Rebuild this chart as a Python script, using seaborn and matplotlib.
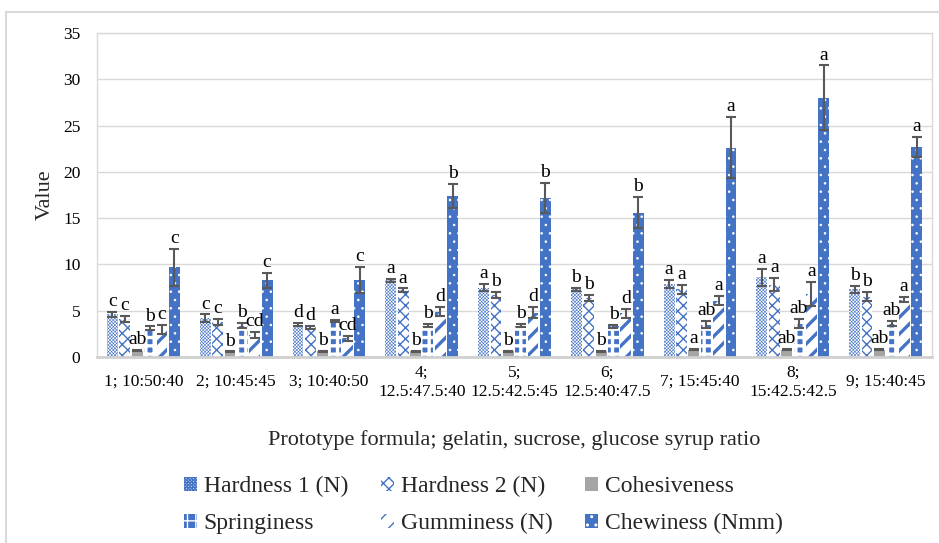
import matplotlib
matplotlib.use("Agg")
import matplotlib.pyplot as plt
from matplotlib.patches import Patch
from matplotlib.lines import Line2D
import numpy as np
import pandas as pd
import seaborn as sns

# Prototype formulas (gelatin : sucrose : glucose syrup)
formulas = ["1; 10:50:40", "2; 10:45:45", "3; 10:40:50",
            "4;\n12.5:47.5:40", "5;\n12.5:42.5:45", "6;\n12.5:40:47.5",
            "7; 15:45:40", "8;\n15:42.5:42.5", "9; 15:40:45"]

attributes = ["Hardness 1 (N)", "Hardness 2 (N)", "Cohesiveness",
              "Springiness", "Gumminess (N)", "Chewiness (Nmm)"]

hardness1 = [4.6, 4.2, 3.5, 8.3, 7.5, 7.3, 7.9, 8.6, 7.3]
hardness1_sd = [0.3, 0.4, 0.15, 0.15, 0.4, 0.15, 0.4, 0.9, 0.4]
hardness2 = [4.1, 3.8, 3.2, 7.2, 6.7, 6.4, 7.3, 7.8, 6.5]
hardness2_sd = [0.3, 0.3, 0.15, 0.2, 0.3, 0.3, 0.5, 0.7, 0.5]
cohesiveness = [0.7, 0.55, 0.6, 0.6, 0.6, 0.6, 0.8, 0.8, 0.8]
cohesiveness_sd = [0.05, 0.05, 0.05, 0.05, 0.05, 0.05, 0.05, 0.05, 0.05]
springiness = [3.1, 3.4, 3.9, 3.4, 3.4, 3.3, 3.5, 3.6, 3.6]
springiness_sd = [0.2, 0.3, 0.15, 0.15, 0.2, 0.2, 0.4, 0.5, 0.3]
gumminess = [3.0, 2.4, 2.0, 4.9, 4.8, 4.7, 6.1, 6.8, 6.2]
gumminess_sd = [0.5, 0.3, 0.3, 0.5, 0.6, 0.5, 0.5, 1.3, 0.3]
chewiness = [9.7, 8.3, 8.3, 17.4, 17.2, 15.6, 22.6, 28.0, 22.7]
chewiness_sd = [2.0, 0.8, 1.4, 1.3, 1.6, 1.7, 3.3, 3.5, 1.1]

letters_h1 = ["c", "c", "d", "a", "a", "b", "a", "a", "b"]
letters_h2 = ["c", "c", "d", "a", "b", "b", "a", "a", "b"]
letters_coh = ["ab", "b", "b", "b", "b", "b", "a", "ab", "ab"]
letters_spr = ["b", "b", "a", "b", "b", "b", "ab", "ab", "ab"]
letters_gum = ["c", "cd", "cd", "d", "d", "d", "a", "a", "a"]
letters_chew = ["c", "c", "c", "b", "b", "b", "a", "a", "a"]

means = [hardness1, hardness2, cohesiveness, springiness, gumminess, chewiness]
sds = [hardness1_sd, hardness2_sd, cohesiveness_sd, springiness_sd,
       gumminess_sd, chewiness_sd]
letters = [letters_h1, letters_h2, letters_coh, letters_spr, letters_gum,
           letters_chew]

df = pd.DataFrame({
    "formula": np.tile(formulas, len(attributes)),
    "attribute": np.repeat(attributes, len(formulas)),
    "value": np.concatenate(means),
})

BLUE = "#4472C4"
GREY = "#A5A5A5"
styles = {
    "Hardness 1 (N)": dict(face="white", edge=BLUE, hatch="x" * 10, hlw=0.4),
    "Hardness 2 (N)": dict(face="white", edge=BLUE, hatch="xxx", hlw=1.0),
    "Cohesiveness": dict(face=GREY, edge=GREY, hatch=None, hlw=1.0),
    "Springiness": dict(face=BLUE, edge="white", hatch="++", hlw=2.4),
    "Gumminess (N)": dict(face="white", edge=BLUE, hatch="//", hlw=2.4),
    "Chewiness (Nmm)": dict(face=BLUE, edge="white", hatch="..", hlw=0.6),
}

sns.set_theme(style="white")
plt.rcParams["font.family"] = ["Liberation Serif", "DejaVu Serif"]
plt.rcParams["hatch.linewidth"] = 1.0


def style_patch(p, st):
    p.set_facecolor(st["face"])
    p.set_edgecolor(st["edge"])
    p.set_linewidth(0)
    if st["hatch"]:
        p.set_hatch(st["hatch"])
        if hasattr(p, "set_hatch_linewidth"):
            p.set_hatch_linewidth(st["hlw"])
        else:
            p._hatch_linewidth = st["hlw"]


fig = plt.figure(figsize=(9.39, 5.43), dpi=100)
ax = fig.add_axes([97 / 939, 1 - 357 / 543, 835 / 939, 324 / 543])

sns.barplot(data=df, x="formula", y="value", hue="attribute",
            order=formulas, hue_order=attributes, errorbar=None,
            width=0.8, gap=0.12, legend=False, ax=ax,
            palette={a: styles[a]["face"] for a in attributes})

for cont, attr, m, s, lab in zip(ax.containers, attributes, means, sds, letters):
    st = styles[attr]
    xs = []
    for bar in cont:
        style_patch(bar, st)
        xs.append(bar.get_x() + bar.get_width() / 2)
    ax.errorbar(xs, m, yerr=s, fmt="none", ecolor="#595959", elinewidth=1.5,
                capsize=3.5, capthick=1.5, zorder=5)
    for x, v, e, t in zip(xs, m, s, lab):
        ax.text(x, v + e + 0.2, t, ha="center", va="bottom", fontsize=14,
                color="black", zorder=6)

ax.set_ylim(0, 35)
ax.set_xlim(-0.5, len(formulas) - 0.5)
ax.set_yticks(np.arange(0, 36, 5))
ax.yaxis.grid(True, color="#D9D9D9", linewidth=1)
ax.set_axisbelow(True)
for side in ["left", "top", "right"]:
    ax.spines[side].set_color("#D9D9D9")
    ax.spines[side].set_linewidth(1)
ax.spines["bottom"].set_color("#D0D0D0")
ax.spines["bottom"].set_linewidth(2)
ax.tick_params(axis="both", length=0, labelsize=12.5, colors="black")
ax.tick_params(axis="y", pad=12)
ax.tick_params(axis="x", pad=18)
for t in ax.get_xticklabels():
    t.set_va("center")
    t.set_linespacing(1.3)

ax.set_ylabel("Value", fontsize=16, labelpad=6)
ax.set_xlabel("Prototype formula; gelatin, sucrose, glucose syrup ratio",
              fontsize=16, labelpad=0)
ax.xaxis.label.set_va("center")
ax.xaxis.set_label_coords(0.5, -(440 - 357) / 324)

# legend laid out row by row: three entries per row
order = [0, 3, 1, 4, 2, 5]
handles = []
for a in attributes:
    h = Patch()
    style_patch(h, styles[a])
    handles.append(h)
fig.legend([handles[i] for i in order], [attributes[i] for i in order],
           ncol=3, frameon=False, fontsize=17,
           loc="center left", bbox_to_anchor=(184 / 939, 1 - 505 / 543),
           borderaxespad=0, borderpad=0,
           handlelength=0.55, handleheight=0.55, handletextpad=0.28,
           columnspacing=1.4, labelspacing=0.68)

# outer chart border
fig.add_artist(Line2D([6 / 939, 6 / 939], [0, 1 - 12 / 543],
                      transform=fig.transFigure, color="#D9D9D9", lw=1.5))
fig.add_artist(Line2D([6 / 939, 1], [1 - 12 / 543, 1 - 12 / 543],
                      transform=fig.transFigure, color="#D9D9D9", lw=1.5))

fig.savefig("out.png", dpi=100)
